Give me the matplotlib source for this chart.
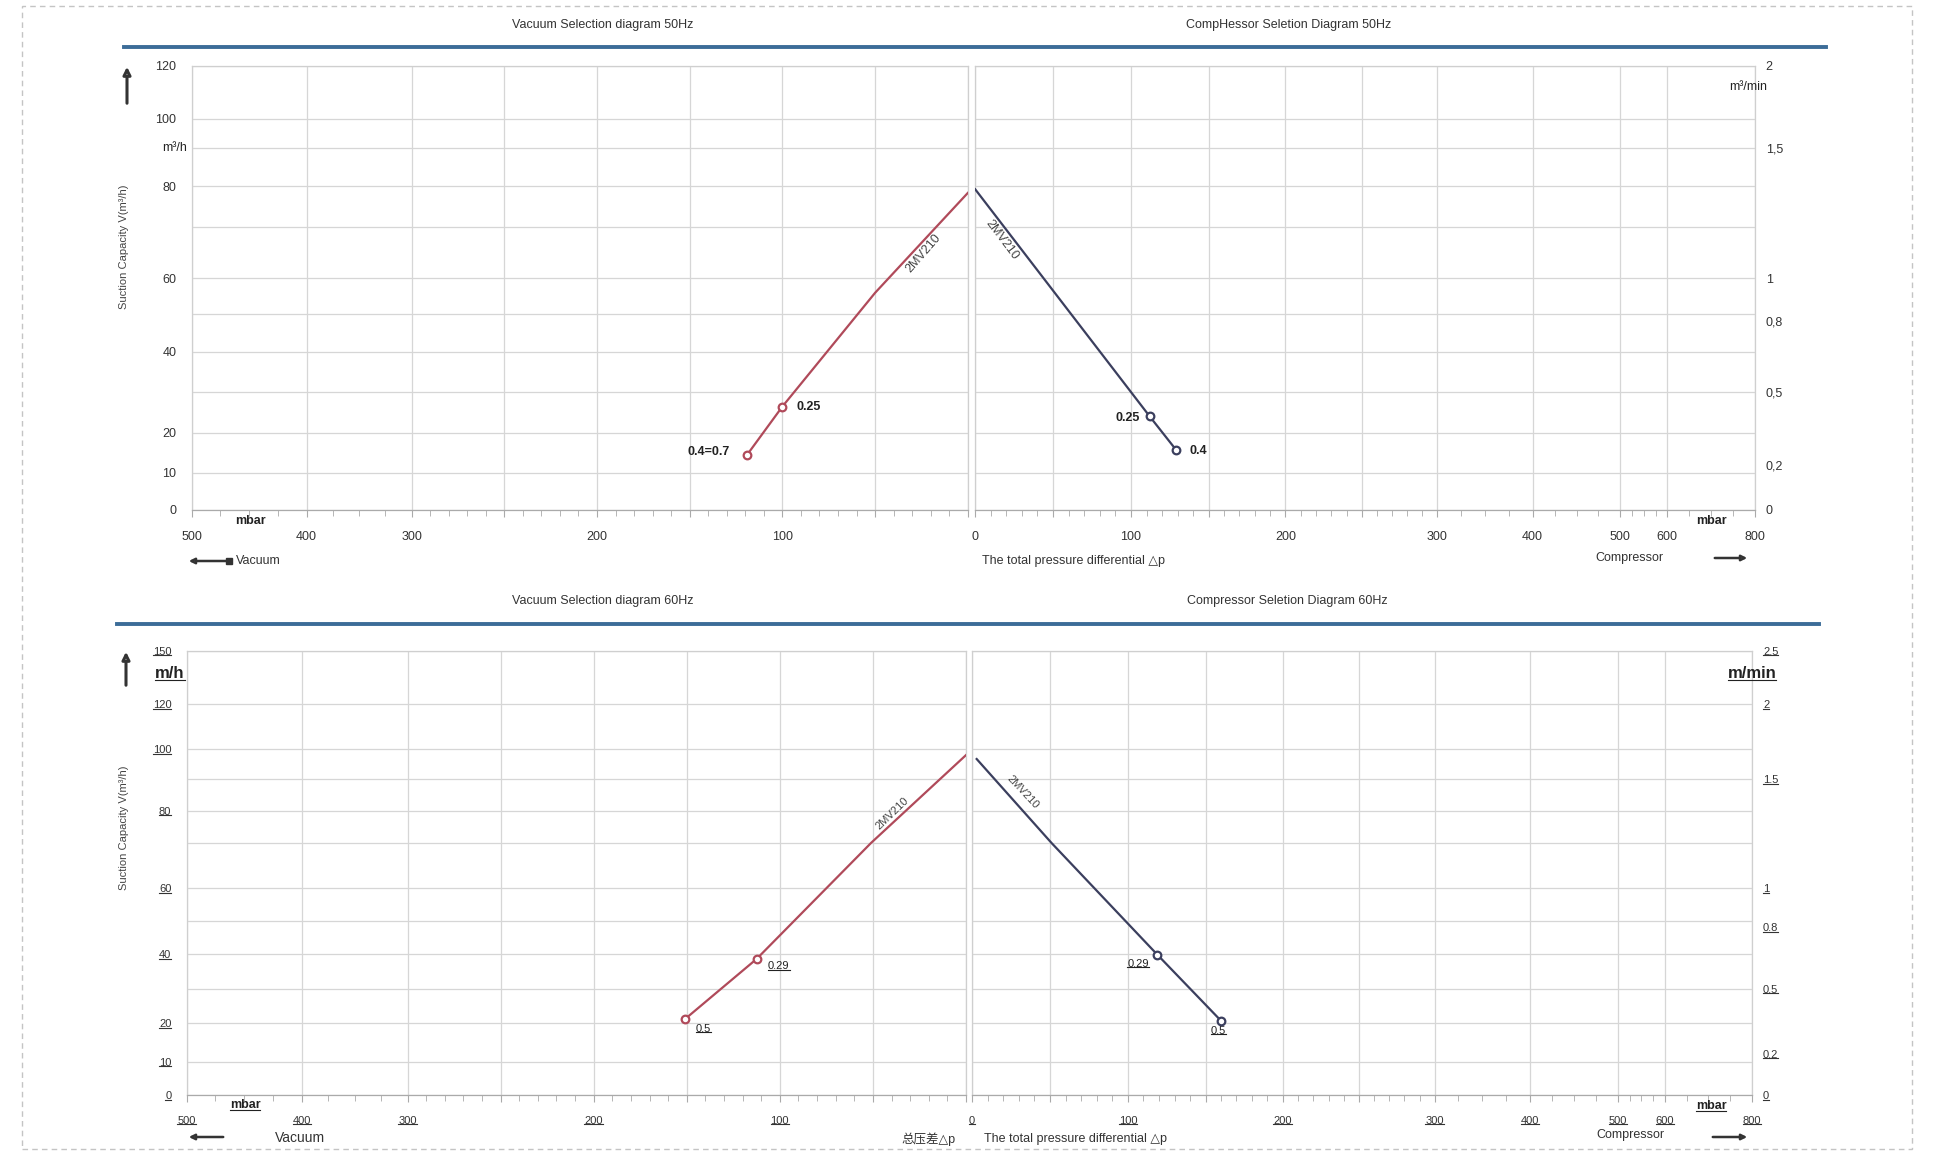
import numpy as np
import matplotlib
matplotlib.use('Agg')
import matplotlib.pyplot as plt
from matplotlib.patches import FancyArrowPatch, Rectangle
from matplotlib.lines import Line2D

plt.rcParams['font.family'] = ['Liberation Sans', 'DejaVu Sans', 'Noto Sans CJK SC']

# ---- data (pressure differential in mbar, suction capacity in m3/h) ----
# 50 Hz
vac50_p = [0, 50, 100, 119]
vac50_q = [78.3, 55.9, 26.4, 14.5]
vac50_lab = ['0.25', '0.4=0.7']
comp50_p = [0, 112, 129]
comp50_q = [79.2, 24.0, 15.7]
comp50_lab = ['0.25', '0.4']
# 60 Hz
vac60_p = [0, 51, 112.5, 151]
vac60_q = [98.0, 70.0, 38.6, 21.2]
vac60_lab = ['0.29', '0.5']
comp60_p = [3, 51, 119, 160]
comp60_q = [96.7, 70.0, 39.8, 20.7]
comp60_lab = ['0.29', '0.5']
model = '2MV210'

# tick values / labels
vac_ticks = [0, 50, 100, 150, 200, 250, 300, 400, 500]
vac_ticklab = ['', '', '100', '', '200', '', '300', '400', '500']
comp_ticks = [0, 50, 100, 150, 200, 250, 300, 400, 500, 600, 800]
comp_ticklab = ['0', '', '100', '', '200', '', '300', '400', '500', '600', '800']
q50_ticks = [0, 10, 20, 30, 40, 50, 60, 70, 80, 90, 100, 120]
q50_ticklab = ['0', '10', '20', '', '40', '', '60', '', '80', '', '100', '120']
q60_ticks = [0, 10, 20, 30, 40, 50, 60, 70, 80, 90, 100, 120, 150]
q60_ticklab = ['0', '10', '20', '', '40', '', '60', '', '80', '', '100', '120', '150']
min50_ticks = [0, 0.2, 0.5, 0.8, 1, 1.5, 2]
min50_ticklab = ['0', '0,2', '0,5', '0,8', '1', '1,5', '2']
min60_ticks = [0, 0.2, 0.5, 0.8, 1, 1.5, 2, 2.5]
min60_ticklab = ['0', '0.2', '0.5', '0.8', '1', '1.5', '2', '2.5']

vac_minor = list(range(10, 300, 10)) + [325, 350, 375, 425, 450, 475]
comp_minor = list(range(10, 300, 10)) + [325, 350, 375, 425, 450, 475, 525, 550, 575, 650, 700, 750]

# ---- the hand drawn scales are not linear: grid spacing ----
vac_sc = ([0, 50, 100, 150, 200, 250, 300, 400, 500], [0, 75, 150, 225, 300, 375, 450, 535, 628])
comp_sc = ([0, 50, 100, 150, 200, 250, 300, 400, 500, 600, 800],
           [0, 63, 126, 189, 251, 313, 374, 451, 522, 560, 630.5])
q50_sc = ([0, 10, 20, 30, 40, 50, 60, 70, 80, 90, 100, 120],
          [0, 30.1, 62.6, 95.6, 128.1, 158.6, 187.6, 229.2, 262.1, 293.1, 316.6, 359.6])
q60_sc = ([0, 10, 20, 30, 40, 50, 60, 70, 80, 90, 100, 120, 150],
          [0, 27, 58, 86, 114, 141, 167.3, 204, 230, 255.5, 280, 316.4, 359.5])

RED = '#b04a5a'
NAVY = '#3b3f5e'
GRID = '#d6d6d6'
TXT = '#333333'

W, H = 1938, 1153
fig = plt.figure(figsize=(W / 100, H / 100), dpi=100)
underlined = []   # text objects that get a line drawn under them at the end
under_axes = []   # axes whose tick labels are underlined


def fx(x):
    return x / W


def fy(y):
    return 1 - y / H


def pw(xs, ys):
    xs = np.asarray(xs, float)
    ys = np.asarray(ys, float)

    def f(v):
        v = np.asarray(v, float)
        out = np.interp(v, xs, ys)
        out = np.where(v < xs[0], ys[0] + (v - xs[0]) * (ys[1] - ys[0]) / (xs[1] - xs[0]), out)
        out = np.where(v > xs[-1], ys[-1] + (v - xs[-1]) * (ys[-1] - ys[-2]) / (xs[-1] - xs[-2]), out)
        return out
    return f


def scale(ax, axis, sc):
    fw, bw = pw(sc[0], sc[1]), pw(sc[1], sc[0])
    if axis == 'x':
        ax.set_xscale('function', functions=(fw, bw))
    else:
        ax.set_yscale('function', functions=(fw, bw))


def make_row(top, bot, lx, rx, qsc, qmax, qt, qtl, mt, mtl, under, fs):
    axl = fig.add_axes([fx(lx[0]), fy(bot), fx(lx[1] - lx[0]), (bot - top) / H])
    axr = fig.add_axes([fx(rx[0]), fy(bot), fx(rx[1] - rx[0]), (bot - top) / H])
    for ax, xsc, xt, xtl, xm in ((axl, vac_sc, vac_ticks, vac_ticklab, vac_minor),
                                 (axr, comp_sc, comp_ticks, comp_ticklab, comp_minor)):
        scale(ax, 'x', xsc)
        scale(ax, 'y', qsc)
        ax.set_ylim(0, qmax)
        ax.set_xticks(xt)
        ax.set_xticklabels(xtl, fontsize=fs, color=TXT)
        ax.set_xticks(xm, minor=True)
        ax.set_yticks(qt)
        ax.grid(True, which='major', color=GRID, lw=0.9)
        ax.set_axisbelow(True)
        ax.tick_params(axis='x', which='major', length=5, pad=10, color='#aaaaaa')
        ax.tick_params(axis='x', which='minor', length=4, color='#aaaaaa')
        ax.tick_params(axis='y', length=0)
        for s in ax.spines.values():
            s.set_color('#cfcfcf')
            s.set_linewidth(0.9)
        ax.spines['bottom'].set_color('#aaaaaa')
    axl.set_xlim(500, 0)
    axr.set_xlim(0, 800)
    axl.set_yticklabels(qtl, fontsize=fs, color=TXT)
    axl.tick_params(axis='y', pad=11)
    axr.set_yticklabels([])
    # right hand scale in m3/min
    tw = axr.twinx()
    f60, b60 = pw(qsc[0], qsc[1]), pw(qsc[1], qsc[0])
    tw.set_yscale('function', functions=(lambda v: f60(np.asarray(v, float) * 60),
                                         lambda p: b60(p) / 60))
    tw.set_ylim(0, qmax / 60)
    tw.set_yticks(mt)
    tw.set_yticklabels(mtl, fontsize=fs, color=TXT)
    tw.tick_params(axis='y', length=0, pad=8)
    for s in tw.spines.values():
        s.set_visible(False)
    if under:
        under_axes.extend([(axl, 'x'), (axr, 'x'), (axl, 'y'), (tw, 'y')])
    return axl, axr


def curve(ax, p, q, labs, offs, has, color, model_off, model_rot, fs, bold, under):
    ax.plot(p, q, color=color, lw=1.6, zorder=3)
    ax.plot(p[-2:], q[-2:], 'o', mfc='white', mec=color, mew=1.6, ms=5.5, zorder=4)
    for pp, qq, t, o, ha in zip(p[-2:], q[-2:], labs, offs, has):
        a = ax.annotate(t, (pp, qq), xytext=o, textcoords='offset points',
                        ha=ha, va='center', fontsize=fs, color='#222222',
                        fontweight='bold' if bold else 'normal')
        if under:
            underlined.append(a)
    ax.annotate(model, (p[0], q[0]), xytext=model_off,
                textcoords='offset points', ha='center', va='center',
                rotation=model_rot, rotation_mode='anchor', fontsize=fs, color='#444444')


# ---------- 50 Hz ----------
tl, tr = make_row(65.5, 510, (191.6, 967.8), (975.2, 1754.5), q50_sc, 120,
                  q50_ticks, q50_ticklab, min50_ticks, min50_ticklab, False, 9)
curve(tl, vac50_p, vac50_q, vac50_lab, [(9.8, 0), (-12.5, 1.8)], ['left', 'right'],
      RED, (-32, -43.6), 49, 9, True, False)
curve(tr, comp50_p, comp50_q, comp50_lab, [(-7, -1), (9.8, -1)], ['right', 'left'],
      NAVY, (19.1, -36.5), -53, 9, True, False)

# ---------- 60 Hz ----------
bl, br = make_row(650.8, 1095, (186.6, 966), (972, 1752), q60_sc, 150,
                  q60_ticks, q60_ticklab, min60_ticks, min60_ticklab, True, 8)
curve(bl, vac60_p, vac60_q, vac60_lab, [(16, -5.3), (13.3, -7)], ['center', 'center'],
      RED, (-53.2, -41.8), 44, 8, False, True)
curve(br, comp60_p, comp60_q, comp60_lab, [(-14, -6.6), (-2, -7)], ['center', 'center'],
      NAVY, (32.9, -23.6), -47, 8, False, True)

# ---------- sheet decorations ----------
fig.add_artist(Rectangle((fx(22), fy(1149)), fx(1912 - 22), (1149 - 6) / H, transform=fig.transFigure,
                         fill=False, ls=(0, (4, 3)), ec='#c4c4c4', lw=1))
for y, x0, x1 in ((47, 124, 1826), (624, 117, 1819)):
    fig.add_artist(Line2D([fx(x0), fx(x1)], [fy(y), fy(y)], color='#3c6c98', lw=2.8))


def ftext(x, y, s, under=False, **kw):
    kw.setdefault('ha', 'center')
    kw.setdefault('va', 'center')
    kw.setdefault('color', TXT)
    kw.setdefault('fontsize', 9)
    t = fig.text(fx(x), fy(y), s, **kw)
    if under:
        underlined.append(t)
    return t


def farrow(x0, y0, x1, y1, ms=11, lw=2.2):
    fig.add_artist(FancyArrowPatch((fx(x0), fy(y0)), (fx(x1), fy(y1)), transform=fig.transFigure,
                                   arrowstyle='-|>', mutation_scale=ms, lw=lw,
                                   fc='white', ec='#333333'))


ftext(603, 25, 'Vacuum Selection diagram 50Hz')
ftext(1289, 25, 'CompHessor Seletion Diagram 50Hz')
ftext(603, 601, 'Vacuum Selection diagram 60Hz')
ftext(1287, 601, 'Compressor Seletion Diagram 60Hz')

ftext(124, 247, 'Suction Capacity V(m³/h)', rotation=90, fontsize=8, color='#444444')
ftext(124, 828, 'Suction Capacity V(m³/h)', rotation=90, fontsize=8, color='#444444')
farrow(127, 106, 127, 64)
farrow(126, 688, 126, 649)

ftext(175, 148, 'm³/h', fontsize=9, color='#222222')
ftext(1748, 87, 'm³/min', fontsize=9, color='#222222')
ftext(170, 674, 'm/h', under=True, fontsize=12, fontweight='bold', color='#222222')
ftext(1752, 674, 'm/min', under=True, fontsize=12, fontweight='bold', color='#222222')

ftext(250, 521, 'mbar', fontsize=9, fontweight='bold', color='#222222')
ftext(1711, 521, 'mbar', fontsize=9, fontweight='bold', color='#222222')
ftext(245, 1105, 'mbar', under=True, fontsize=9, fontweight='bold', color='#222222')
ftext(1711, 1106, 'mbar', under=True, fontsize=9, fontweight='bold', color='#222222')

# pressure direction hints, 50 Hz
farrow(229, 561, 186, 561, ms=8, lw=1.8)
fig.add_artist(Line2D([fx(229)], [fy(561)], marker='s', ms=4, color='#333333'))
ftext(236, 561, 'Vacuum', ha='left')
ftext(1074, 561, 'The total pressure differential △p')
ftext(1629, 558, 'Compressor')
farrow(1712, 558, 1750, 558, ms=8, lw=1.8)

# 60 Hz
farrow(226, 1137, 186, 1137, ms=8, lw=1.8)
ftext(300, 1138, 'Vacuum', fontsize=10)
ftext(928, 1139, '总压差△p', fontsize=9)
ftext(1075, 1139, 'The total pressure differential △p')
ftext(1630, 1135, 'Compressor')
farrow(1710, 1137, 1750, 1137, ms=8, lw=1.8)

# ---------- underlines (mathtext has no \underline) ----------
fig.canvas.draw()
items = list(underlined)
for ax, which in under_axes:
    labs = ax.get_xticklabels() if which == 'x' else ax.get_yticklabels()
    items.extend([t for t in labs if t.get_text() and t.get_visible()])
r = fig.canvas.get_renderer()
for t in items:
    bb = t.get_window_extent(r)
    y = bb.y0 + 1.5
    fig.add_artist(Line2D([bb.x0 / W, bb.x1 / W], [y / H, y / H], color=t.get_color(), lw=0.8))

fig.savefig('out.png', dpi=100)
